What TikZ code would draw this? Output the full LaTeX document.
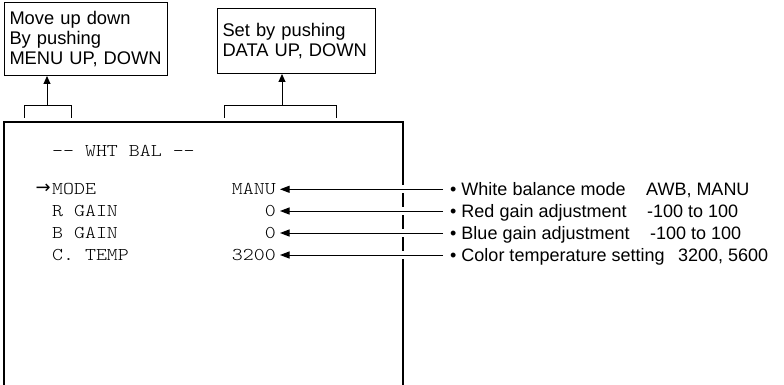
\documentclass[tikz,border=0pt]{standalone}
\usepackage{fontspec}
\setmainfont{Liberation Sans}
\newfontfamily\scrfont[Extension=.otf, FakeStretch=1.16]{lmmonolt10-regular}
\newfontfamily\symfont{DejaVu Sans}
\usetikzlibrary{arrows.meta}
\tikzset{
  callout/.style={draw, line width=1pt, align=left, inner xsep=5pt, inner ysep=0pt,
    font=\fontsize{18.3}{20}\selectfont, anchor=north west},
  screen/.style={line width=1.7pt},
  scrtext/.style={font=\scrfont\fontsize{18}{18}\selectfont, inner sep=0pt, text height=10.8pt, text depth=0pt},
  desc/.style={font=\fontsize{18}{20}\selectfont, inner sep=0pt, text height=12.9pt, text depth=0pt, anchor=west},
  bracket/.style={line width=1pt},
  uparr/.style={line width=1pt, -{Triangle[length=8pt,width=7pt]}},
  ptr/.style={line width=1pt, -{Triangle[length=9.5pt,width=7pt]}, shorten >=4pt, shorten <=7pt}
}
\begin{document}
\begin{tikzpicture}[x=1pt,y=-1pt]
\useasboundingbox (0,0) rectangle (784,385);
% callout boxes
\node[callout, minimum width=163pt, minimum height=73pt, text width=153pt] (b1) at (4,2)
  {Move up down\\By pushing\\MENU UP, DOWN};
\node[callout, minimum width=158pt, minimum height=65pt, text width=148pt] (b2) at (217,8)
  {Set by pushing\\DATA UP, DOWN};
% brackets
\coordinate (k1) at (47,106);
\coordinate (k2) at (282,106);
\draw[bracket] (24,118) -- (24,106) -- (71,106) -- (71,118);
\draw[bracket] (224,118) -- (224,106) -- (336,106) -- (336,118);
\draw[uparr] (k1) -- (k1 |- b1.south);
\draw[uparr] (k2) -- (k2 |- b2.south);
% screen
\draw[screen] (4,390) -- (4,122) -- (403,122) -- (403,185);
\draw[screen] (403,193) -- (403,206.5);
\draw[screen] (403,215) -- (403,228.5);
\draw[screen] (403,237) -- (403,251);
\draw[screen] (403,259) -- (403,390);
% screen text
\node[scrtext, anchor=west] (title) at (52,151.5) {-- WHT BAL --};
\node[font=\symfont\fontsize{18}{18}\selectfont, inner sep=0pt, anchor=east] (cur) at (51,188.3) {→};
\node[scrtext, anchor=west] (l1) at (52,189.3) {MODE};
\node[scrtext, anchor=west] (l2) at (52,211) {R GAIN};
\node[scrtext, anchor=west] (l3) at (52,233) {B GAIN};
\node[scrtext, anchor=west] (l4) at (52,255) {C. TEMP};
\node[scrtext, anchor=east] (v1) at (276,189.3) {MANU};
\node[scrtext, anchor=east] (v2) at (276,211) {0};
\node[scrtext, anchor=east] (v3) at (276,233) {0};
\node[scrtext, anchor=east] (v4) at (276,255) {3200};
% descriptions
\node[desc] (d1) at (450,189.3) {\makebox[196pt][l]{• White balance mode}AWB, MANU};
\node[desc] (d2) at (450,211) {\makebox[197pt][l]{• Red gain adjustment}-100 to 100};
\node[desc] (d3) at (450,233) {\makebox[200pt][l]{• Blue gain adjustment}-100 to 100};
\node[desc] (d4) at (450,255) {\makebox[228pt][l]{• Color temperature setting}3200, 5600};
\draw[ptr] (d1.west) -- (v1.east);
\draw[ptr] (d2.west) -- (v2.east);
\draw[ptr] (d3.west) -- (v3.east);
\draw[ptr] (d4.west) -- (v4.east);
\end{tikzpicture}
\end{document}
